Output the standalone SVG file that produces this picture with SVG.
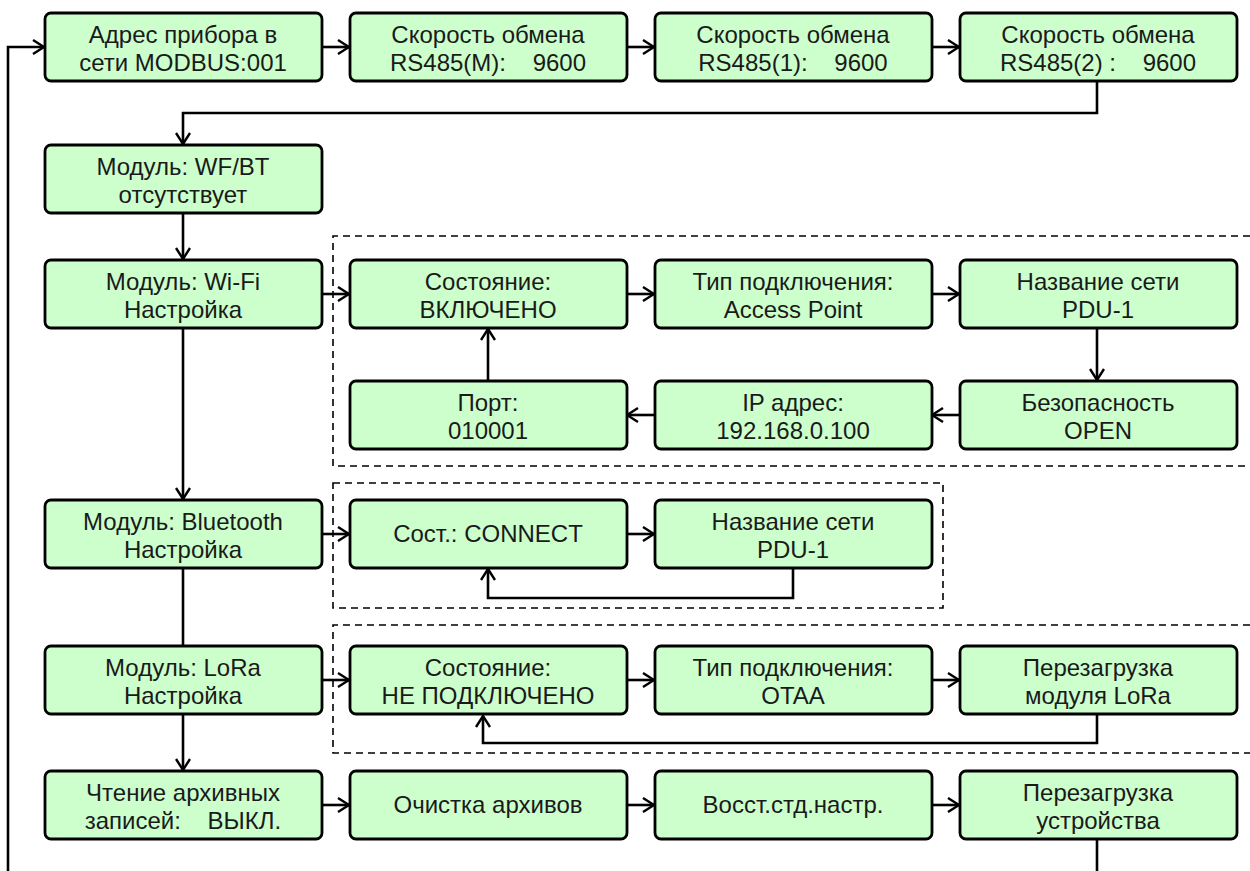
<svg xmlns="http://www.w3.org/2000/svg" width="1250" height="871" viewBox="0 0 1250 871">
<defs>
<marker id="arr" viewBox="0 0 13 16" refX="12" refY="8" markerWidth="13" markerHeight="16" markerUnits="userSpaceOnUse" orient="auto">
<path d="M1,1 L12,8 L1,15" fill="none" stroke="#000" stroke-width="2.4"/>
</marker>
<style>
.n rect{fill:#ccffcc;stroke:#000;stroke-width:2.8}
.n text{font-family:"Liberation Sans",Arial,sans-serif;font-size:24px;fill:#1a1a1a;text-anchor:middle;white-space:pre}
.c path{fill:none;stroke:#000;stroke-width:2.6}
.d path,.d rect{fill:none;stroke:#000;stroke-width:1.6;stroke-dasharray:7,5}
</style>
</defs>
<rect width="1250" height="871" fill="#fff"/>
<g class="d">
<path d="M1250,236 H333 V466 H1250"/>
<rect x="333" y="483" width="610" height="125"/>
<path d="M1250,625 H333 V753 H1250"/>
</g>
<g class="c">
<path d="M8,871 V47 H44" marker-end="url(#arr)"/>
<path d="M322,47 H349" marker-end="url(#arr)"/>
<path d="M627,47 H654" marker-end="url(#arr)"/>
<path d="M932,47 H959" marker-end="url(#arr)"/>
<path d="M1097,81 V113 H183 V144" marker-end="url(#arr)"/>
<path d="M183,213 V259" marker-end="url(#arr)"/>
<path d="M183,328 V499" marker-end="url(#arr)"/>
<path d="M183,568 V646"/>
<path d="M183,715 V770" marker-end="url(#arr)"/>
<path d="M322,294 H349" marker-end="url(#arr)"/>
<path d="M627,294 H654" marker-end="url(#arr)"/>
<path d="M932,294 H959" marker-end="url(#arr)"/>
<path d="M1097,328 V380" marker-end="url(#arr)"/>
<path d="M960,415 H932" marker-end="url(#arr)"/>
<path d="M655,415 H627" marker-end="url(#arr)"/>
<path d="M488,381 V329" marker-end="url(#arr)"/>
<path d="M322,534 H349" marker-end="url(#arr)"/>
<path d="M627,534 H654" marker-end="url(#arr)"/>
<path d="M793,568 V598 H488 V569" marker-end="url(#arr)"/>
<path d="M322,680 H349" marker-end="url(#arr)"/>
<path d="M627,680 H654" marker-end="url(#arr)"/>
<path d="M932,680 H959" marker-end="url(#arr)"/>
<path d="M1097,715 V743 H483 V716" marker-end="url(#arr)"/>
<path d="M322,805 H349" marker-end="url(#arr)"/>
<path d="M627,805 H654" marker-end="url(#arr)"/>
<path d="M932,805 H959" marker-end="url(#arr)"/>
<path d="M1097,839 V871"/>
</g>
<g id="n1" class="n"><rect x="45" y="13" width="277" height="68" rx="6"/><text x="183" y="43">Адрес прибора в</text><text x="183" y="71">сети MODBUS:001</text></g>
<g id="n2" class="n"><rect x="350" y="13" width="277" height="68" rx="6"/><text x="488" y="43">Скорость обмена</text><text x="488" y="71">RS485(M):    9600</text></g>
<g id="n3" class="n"><rect x="655" y="13" width="277" height="68" rx="6"/><text x="793" y="43">Скорость обмена</text><text x="793" y="71">RS485(1):    9600</text></g>
<g id="n4" class="n"><rect x="960" y="13" width="277" height="68" rx="6"/><text x="1098" y="43">Скорость обмена</text><text x="1098" y="71">RS485(2) :    9600</text></g>
<g id="n5" class="n"><rect x="45" y="145" width="277" height="68" rx="6"/><text x="183" y="175">Модуль: WF/BT</text><text x="183" y="203">отсутствует</text></g>
<g id="n6" class="n"><rect x="45" y="260" width="277" height="68" rx="6"/><text x="183" y="290">Модуль: Wi-Fi</text><text x="183" y="318">Настройка</text></g>
<g id="n7" class="n"><rect x="350" y="260" width="277" height="68" rx="6"/><text x="488" y="290">Состояние:</text><text x="488" y="318">ВКЛЮЧЕНО</text></g>
<g id="n8" class="n"><rect x="655" y="260" width="277" height="68" rx="6"/><text x="793" y="290">Тип подключения:</text><text x="793" y="318">Access Point</text></g>
<g id="n9" class="n"><rect x="960" y="260" width="277" height="68" rx="6"/><text x="1098" y="290">Название сети</text><text x="1098" y="318">PDU-1</text></g>
<g id="n10" class="n"><rect x="350" y="381" width="277" height="68" rx="6"/><text x="488" y="411">Порт:</text><text x="488" y="439">010001</text></g>
<g id="n11" class="n"><rect x="655" y="381" width="277" height="68" rx="6"/><text x="793" y="411">IP адрес:</text><text x="793" y="439">192.168.0.100</text></g>
<g id="n12" class="n"><rect x="960" y="381" width="277" height="68" rx="6"/><text x="1098" y="411">Безопасность</text><text x="1098" y="439">OPEN</text></g>
<g id="n13" class="n"><rect x="45" y="500" width="277" height="68" rx="6"/><text x="183" y="530">Модуль: Bluetooth</text><text x="183" y="558">Настройка</text></g>
<g id="n14" class="n"><rect x="350" y="500" width="277" height="68" rx="6"/><text x="488" y="542">Сост.: CONNECT</text></g>
<g id="n15" class="n"><rect x="655" y="500" width="277" height="68" rx="6"/><text x="793" y="530">Название сети</text><text x="793" y="558">PDU-1</text></g>
<g id="n16" class="n"><rect x="45" y="646" width="277" height="68" rx="6"/><text x="183" y="676">Модуль: LoRa</text><text x="183" y="704">Настройка</text></g>
<g id="n17" class="n"><rect x="350" y="646" width="277" height="68" rx="6"/><text x="488" y="676">Состояние:</text><text x="488" y="704">НЕ ПОДКЛЮЧЕНО</text></g>
<g id="n18" class="n"><rect x="655" y="646" width="277" height="68" rx="6"/><text x="793" y="676">Тип подключения:</text><text x="793" y="704">OTAA</text></g>
<g id="n19" class="n"><rect x="960" y="646" width="277" height="68" rx="6"/><text x="1098" y="676">Перезагрузка</text><text x="1098" y="704">модуля LoRa</text></g>
<g id="n20" class="n"><rect x="45" y="771" width="277" height="68" rx="6"/><text x="183" y="801">Чтение архивных</text><text x="183" y="829">записей:    ВЫКЛ.</text></g>
<g id="n21" class="n"><rect x="350" y="771" width="277" height="68" rx="6"/><text x="488" y="813">Очистка архивов</text></g>
<g id="n22" class="n"><rect x="655" y="771" width="277" height="68" rx="6"/><text x="793" y="813">Восст.стд.настр.</text></g>
<g id="n23" class="n"><rect x="960" y="771" width="277" height="68" rx="6"/><text x="1098" y="801">Перезагрузка</text><text x="1098" y="829">устройства</text></g>
</svg>
